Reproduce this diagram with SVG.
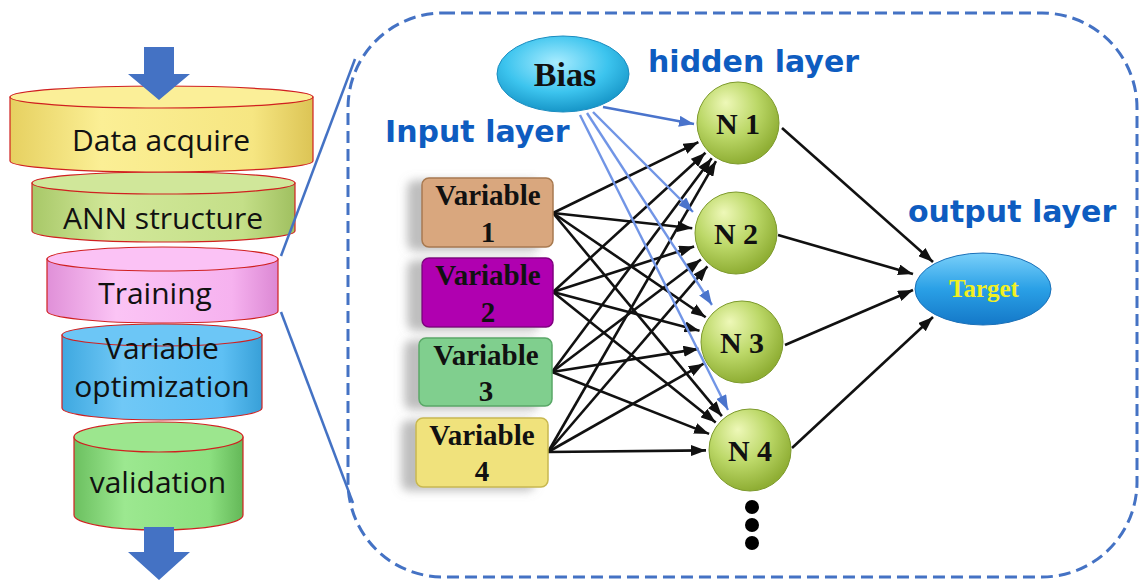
<svg xmlns="http://www.w3.org/2000/svg" width="1140" height="581" viewBox="0 0 1140 581">
<defs>
<style>
.cyl{stroke:#d02020;stroke-width:1.2}
.ftxt{font-family:"Open Sans","Noto Sans",sans-serif;font-size:30px;font-weight:500;fill:#111;text-anchor:middle}
.lay{font-family:"DejaVu Sans","Open Sans",sans-serif;font-weight:bold;font-size:30px;fill:#0e5cc0}
.ser{font-family:"Liberation Serif","Times New Roman",serif;font-weight:bold;text-anchor:middle;fill:#111}
.blk{stroke:#111;stroke-width:2.6;fill:none;marker-end:url(#ab)}
.blu{stroke:#4a74cc;stroke-width:2.6;fill:none;marker-end:url(#au)}
.blu2{stroke:#7195e6;stroke-width:2.4;fill:none;marker-end:url(#au)}
.zoom{stroke:#4472c4;stroke-width:2.5;fill:none}
.box{stroke-width:1.5;filter:url(#sh)}
.sph{fill:url(#gs);stroke:#7d9a2c;stroke-width:1}
</style>
<marker id="ab" markerUnits="userSpaceOnUse" markerWidth="15" markerHeight="11" refX="15" refY="5.5" orient="auto"><path d="M0,0 L15,5.5 L0,11 Z" fill="#111"/></marker>
<marker id="au" markerUnits="userSpaceOnUse" markerWidth="15" markerHeight="11" refX="15" refY="5.5" orient="auto"><path d="M0,0 L15,5.5 L0,11 Z" fill="#4a74cc"/></marker>
<linearGradient id="g1" x1="0" x2="1" y1="0" y2="0"><stop offset="0" stop-color="#e6d060"/><stop offset="0.3" stop-color="#fbef95"/><stop offset="0.8" stop-color="#f6e682"/><stop offset="1" stop-color="#dcc455"/></linearGradient>
<linearGradient id="g2" x1="0" x2="1" y1="0" y2="0"><stop offset="0" stop-color="#a8c868"/><stop offset="0.3" stop-color="#d2e89a"/><stop offset="0.8" stop-color="#c4df88"/><stop offset="1" stop-color="#a0c060"/></linearGradient>
<linearGradient id="g3" x1="0" x2="1" y1="0" y2="0"><stop offset="0" stop-color="#e090d8"/><stop offset="0.3" stop-color="#fbc4f5"/><stop offset="0.8" stop-color="#f6b2ef"/><stop offset="1" stop-color="#dc88d4"/></linearGradient>
<linearGradient id="g4" x1="0" x2="1" y1="0" y2="0"><stop offset="0" stop-color="#3ea8e0"/><stop offset="0.3" stop-color="#70c8f6"/><stop offset="0.8" stop-color="#5ec0f4"/><stop offset="1" stop-color="#38a0d8"/></linearGradient>
<linearGradient id="g5" x1="0" x2="1" y1="0" y2="0"><stop offset="0" stop-color="#6cc060"/><stop offset="0.3" stop-color="#9ce890"/><stop offset="0.8" stop-color="#8ce080"/><stop offset="1" stop-color="#64b858"/></linearGradient>
<radialGradient id="gs" cx="0.4" cy="0.35" r="0.65" fx="0.35" fy="0.25"><stop offset="0" stop-color="#eef8b8"/><stop offset="0.55" stop-color="#bcd868"/><stop offset="1" stop-color="#8fae34"/></radialGradient>
<radialGradient id="gb" cx="0.45" cy="0.35" r="0.65"><stop offset="0" stop-color="#a8ecff"/><stop offset="0.6" stop-color="#3cc4ee"/><stop offset="1" stop-color="#1796c8"/></radialGradient>
<linearGradient id="gt" x1="0" x2="0" y1="0" y2="1"><stop offset="0" stop-color="#7ad0fa"/><stop offset="0.5" stop-color="#2aa0e6"/><stop offset="1" stop-color="#1478c8"/></linearGradient>
<filter id="sh" x="-30%" y="-20%" width="160%" height="150%"><feDropShadow dx="-14" dy="3" stdDeviation="5" flood-color="#888" flood-opacity="0.55"/></filter>
</defs>
<rect width="1140" height="581" fill="#fff"/>

<!-- Funnel (drawn bottom-up so upper cylinders overlap) -->
<g id="validation">
<path class="cyl" fill="url(#g5)" d="M74,437 L74,515 A84.5,15 0 0 0 243,515 L243,437 Z"/>
<ellipse class="cyl" cx="158.5" cy="437" rx="84.5" ry="15" fill="#9ce68e"/>
<text class="ftxt" x="158" y="493">validation</text>
</g>
<g id="variable-optimization">
<path class="cyl" fill="url(#g4)" d="M62,335 L62,408 A100,12 0 0 0 262,408 L262,335 Z"/>
<ellipse class="cyl" cx="162" cy="335" rx="100" ry="11" fill="#6cc6f6"/>
<text class="ftxt" x="162" y="359">Variable</text>
<text class="ftxt" x="162" y="397">optimization</text>
</g>
<g id="training">
<path class="cyl" fill="url(#g3)" d="M47,259 L47,311 A115.5,12 0 0 0 278,311 L278,259 Z"/>
<ellipse class="cyl" cx="162.5" cy="259" rx="115.5" ry="12" fill="#fbc2f5"/>
<text class="ftxt" x="155" y="304">Training</text>
</g>
<g id="ann-structure">
<path class="cyl" fill="url(#g2)" d="M32,183 L32,231 A131.5,11 0 0 0 295,231 L295,183 Z"/>
<ellipse class="cyl" cx="163.5" cy="183" rx="131.5" ry="11" fill="#d0e79a"/>
<text class="ftxt" x="163" y="229">ANN structure</text>
</g>
<g id="data-acquire">
<path class="cyl" fill="url(#g1)" d="M10,97 L10,161 A151.5,11 0 0 0 313,161 L313,97 Z"/>
<ellipse class="cyl" cx="161.5" cy="97" rx="151.5" ry="11" fill="#fbef98"/>
<text class="ftxt" x="161" y="151">Data acquire</text>
</g>
<g id="flow-arrows" fill="#4472c4">
<polygon points="144,47 174,47 174,74 190,74 159,100 128,74 144,74"/>
<polygon points="144,527 174,527 174,552 190,552 159,580 128,552 144,552"/>
</g>

<!-- Zoom frame -->
<g id="zoom-frame">
<rect x="348" y="13" width="789" height="564" rx="95" ry="95" fill="none" stroke="#4472c4" stroke-width="3" stroke-dasharray="12,6"/>
<line class="zoom" x1="281" y1="256" x2="355" y2="59"/>
<line class="zoom" x1="281" y1="312" x2="353" y2="503"/>
</g>

<!-- Layer labels -->
<g id="labels">
<text class="lay" x="648" y="72">hidden layer</text>
<text class="lay" x="385" y="142">Input layer</text>
<text class="lay" x="908" y="222">output layer</text>
</g>

<!-- Connectors -->
<g id="connectors">
<line class="blk" x1="553" y1="213" x2="698.4" y2="142.2"/>
<line class="blk" x1="553" y1="213" x2="692.3" y2="228.2"/>
<line class="blk" x1="553" y1="213" x2="705.7" y2="317.2"/>
<line class="blk" x1="553" y1="213" x2="721.9" y2="416.2"/>
<line class="blk" x1="553" y1="292" x2="705.5" y2="152.7"/>
<line class="blk" x1="553" y1="292" x2="694.1" y2="246.5"/>
<line class="blk" x1="553" y1="292" x2="699.5" y2="330.7"/>
<line class="blk" x1="553" y1="292" x2="715.7" y2="422.5"/>
<line class="blk" x1="552" y1="372" x2="711.7" y2="158.2"/>
<line class="blk" x1="552" y1="372" x2="700.9" y2="259.5"/>
<line class="blk" x1="552" y1="372" x2="698.5" y2="348.9"/>
<line class="blk" x1="552" y1="372" x2="709.1" y2="433.9"/>
<line class="blk" x1="548" y1="452" x2="716" y2="161.1"/>
<line class="blk" x1="548" y1="452" x2="707.4" y2="266.4"/>
<line class="blk" x1="548" y1="452" x2="703.7" y2="363.7"/>
<line class="blk" x1="548" y1="452" x2="706" y2="450.4"/>
<line class="blu" x1="603" y1="107" x2="694" y2="124"/>
<line class="blu2" x1="593" y1="112" x2="693" y2="212"/>
<line class="blu2" x1="587" y1="113" x2="712" y2="305"/>
<line class="blu2" x1="580" y1="115" x2="728" y2="410"/>
<line class="blk" x1="782" y1="128" x2="933" y2="262"/>
<line class="blk" x1="778" y1="235" x2="913" y2="274"/>
<line class="blk" x1="785" y1="345" x2="913" y2="290"/>
<line class="blk" x1="792" y1="448" x2="933" y2="317"/>
</g>

<!-- Nodes -->
<g id="bias">
<ellipse cx="563" cy="74" rx="66" ry="38" fill="url(#gb)" stroke="#1a8cc0" stroke-width="1"/>
<text class="ser" x="565" y="86" font-size="34">Bias</text>
</g>
<g id="variable1">
<rect class="box" x="422" y="178" width="131" height="69" rx="7" fill="#d9a77e" stroke="#a87a50"/>
<text class="ser" x="488" y="205" font-size="29">Variable</text>
<text class="ser" x="488" y="242" font-size="29">1</text>
</g>
<g id="variable2">
<rect class="box" x="422" y="258" width="131" height="69" rx="7" fill="#b000b0" stroke="#800080"/>
<text class="ser" x="488" y="285" font-size="29">Variable</text>
<text class="ser" x="488" y="322" font-size="29">2</text>
</g>
<g id="variable3">
<rect class="box" x="419" y="338" width="133" height="68" rx="7" fill="#80cf8e" stroke="#5aa868"/>
<text class="ser" x="486" y="365" font-size="29">Variable</text>
<text class="ser" x="486" y="401" font-size="29">3</text>
</g>
<g id="variable4">
<rect class="box" x="416" y="418" width="132" height="69" rx="7" fill="#f0e27c" stroke="#c8b850"/>
<text class="ser" x="482" y="445" font-size="29">Variable</text>
<text class="ser" x="482" y="481" font-size="29">4</text>
</g>
<g id="n1">
<circle class="sph" cx="738" cy="123" r="41"/>
<text class="ser" x="738" y="134" font-size="30">N 1</text>
</g>
<g id="n2">
<circle class="sph" cx="736" cy="233" r="41"/>
<text class="ser" x="736" y="244" font-size="30">N 2</text>
</g>
<g id="n3">
<circle class="sph" cx="742" cy="342" r="41"/>
<text class="ser" x="742" y="353" font-size="30">N 3</text>
</g>
<g id="n4">
<circle class="sph" cx="750" cy="450" r="41"/>
<text class="ser" x="750" y="461" font-size="30">N 4</text>
</g>
<g id="ellipsis" fill="#000">
<circle cx="752" cy="507" r="7"/>
<circle cx="752" cy="525" r="7"/>
<circle cx="752" cy="543" r="7"/>
</g>
<g id="target">
<ellipse cx="983" cy="289" rx="68" ry="36" fill="url(#gt)" stroke="#1a70b8" stroke-width="1"/>
<text class="ser" x="984" y="297" font-size="25" style="fill:#f2f022">Target</text>
</g>
</svg>
